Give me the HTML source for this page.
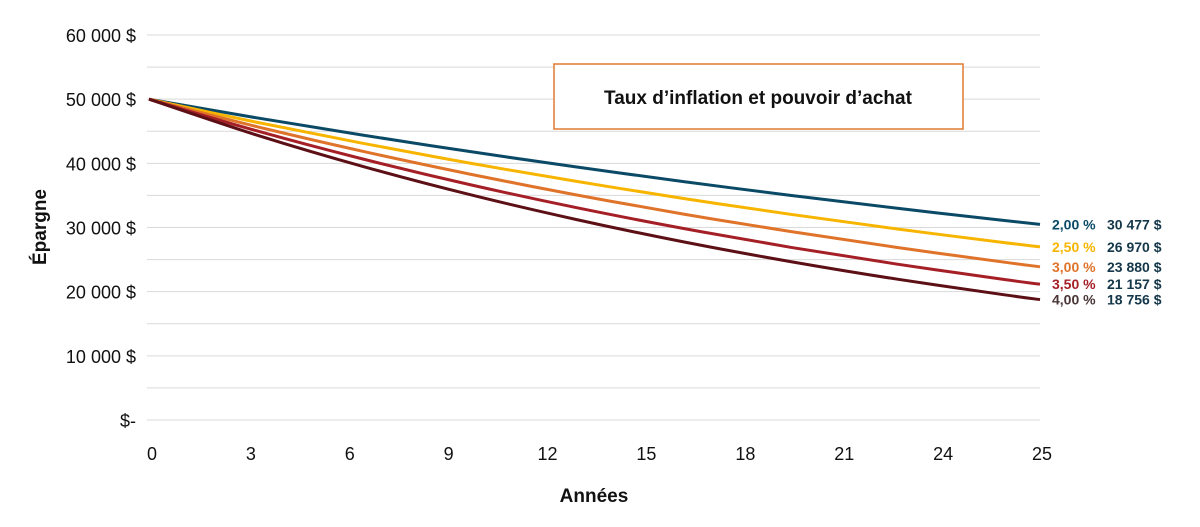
<!DOCTYPE html>
<html><head><meta charset="utf-8"><style>
body{margin:0;background:#fff;width:1200px;height:522px;overflow:hidden;font-family:"Liberation Sans",sans-serif}
</style></head><body>
<svg id="chart" width="1200" height="522" xmlns="http://www.w3.org/2000/svg">
<g id="grid"></g><g id="ylabels"></g><g id="xlabels"></g><g id="lines"></g><g id="endlabels"></g>
<text x="46" y="227" transform="rotate(-90 46 227)" text-anchor="middle" font-size="19" font-weight="bold" fill="#111">Épargne</text>
<text x="594" y="502" text-anchor="middle" font-size="19" font-weight="bold" fill="#111">Années</text>
<rect x="554" y="64" width="409" height="65" fill="#fff" stroke="#e07a30" stroke-width="1.5"/>
<text x="758" y="104" text-anchor="middle" font-size="19" font-weight="bold" fill="#111">Taux d’inflation et pouvoir d’achat</text>
</svg>
<script>
const years=[0,3,6,9,12,15,18,21,24,25];
const rates=["2,00 %","2,50 %","3,00 %","3,50 %","4,00 %"];
const s2=[50000,47116,44399,41837,39425,37151,35008,32988,31086,30477];
const s25=[50000,46430,43115,40037,37178,34523,32058,29769,27644,26970];
const s3=[50000,45757,41874,38321,35069,32093,29370,26878,24597,23880];
const s35=[50000,45097,40675,36686,33089,29844,26918,24279,21898,21157];
const s4=[50000,44450,39516,35129,31230,27763,24682,21942,19506,18756];
const yTicks=[0,10000,20000,30000,40000,50000,60000];
const yTickLabels=["$-","10 000 $","20 000 $","30 000 $","40 000 $","50 000 $","60 000 $"];
const endLabels=["30 477 $","26 970 $","23 880 $","21 157 $","18 756 $"];
const series=[s2,s25,s3,s35,s4];
const colors=["#0b4a66","#f7b500","#e0732a","#a51f26","#5c1016"];
const rateColors=["#0b4a66","#f7b500","#e0732a","#a51f26","#4a3636"];
const NS="http://www.w3.org/2000/svg";
const y=v=>420-v*(385/60000);
const xYear=t=>149+t*(891/25);
const xCat=i=>152+i*(890/(years.length-1));
function mk(t,a,p){const e=document.createElementNS(NS,t);for(const k in a)e.setAttribute(k,a[k]);p.appendChild(e);return e;}
const grid=document.getElementById('grid');
for(let v=0;v<=60000;v+=5000){const l=mk('line',{x1:147,x2:1040,y1:y(v),y2:y(v),stroke:'#d9d9d9','stroke-width':1},grid);

}
const yl=document.getElementById('ylabels');
yTicks.forEach((v,i)=>{const t=mk('text',{x:136,y:y(v)+7,'text-anchor':'end','font-size':18,fill:'#111'},yl);t.textContent=yTickLabels[i];

});
const xl=document.getElementById('xlabels');
years.forEach((v,i)=>{const t=mk('text',{x:xCat(i),y:460,'text-anchor':'middle','font-size':18,fill:'#111'},xl);t.textContent=v;

});
const lg=document.getElementById('lines');
function smooth(pts){let d='M'+pts[0][0].toFixed(1)+' '+pts[0][1].toFixed(1);
for(let i=0;i<pts.length-1;i++){const p0=pts[i-1]||pts[i],p1=pts[i],p2=pts[i+1],p3=pts[i+2]||p2;
const c1=[p1[0]+(p2[0]-p0[0])/6,p1[1]+(p2[1]-p0[1])/6],c2=[p2[0]-(p3[0]-p1[0])/6,p2[1]-(p3[1]-p1[1])/6];
d+=' C'+c1[0].toFixed(1)+' '+c1[1].toFixed(1)+' '+c2[0].toFixed(1)+' '+c2[1].toFixed(1)+' '+p2[0].toFixed(1)+' '+p2[1].toFixed(1);}
return d;}
series.forEach((s,k)=>{const pts=s.map((v,i)=>[xYear(years[i]),y(v)]);
const p=mk('path',{d:smooth(pts),fill:'none',stroke:colors[k],'stroke-width':3,'stroke-linejoin':'round'},lg);

});
const el=document.getElementById('endlabels');
series.forEach((s,k)=>{const yy=y(s[s.length-1])+5;
const t=mk('text',{x:1052,y:yy,'font-size':14,'font-weight':'bold',fill:rateColors[k]},el);t.textContent=rates[k];


const t2=mk('text',{x:1107,y:yy,'font-size':14,'font-weight':'bold',fill:'#15374a'},el);t2.textContent=endLabels[k];

});
</script>
</body></html>
